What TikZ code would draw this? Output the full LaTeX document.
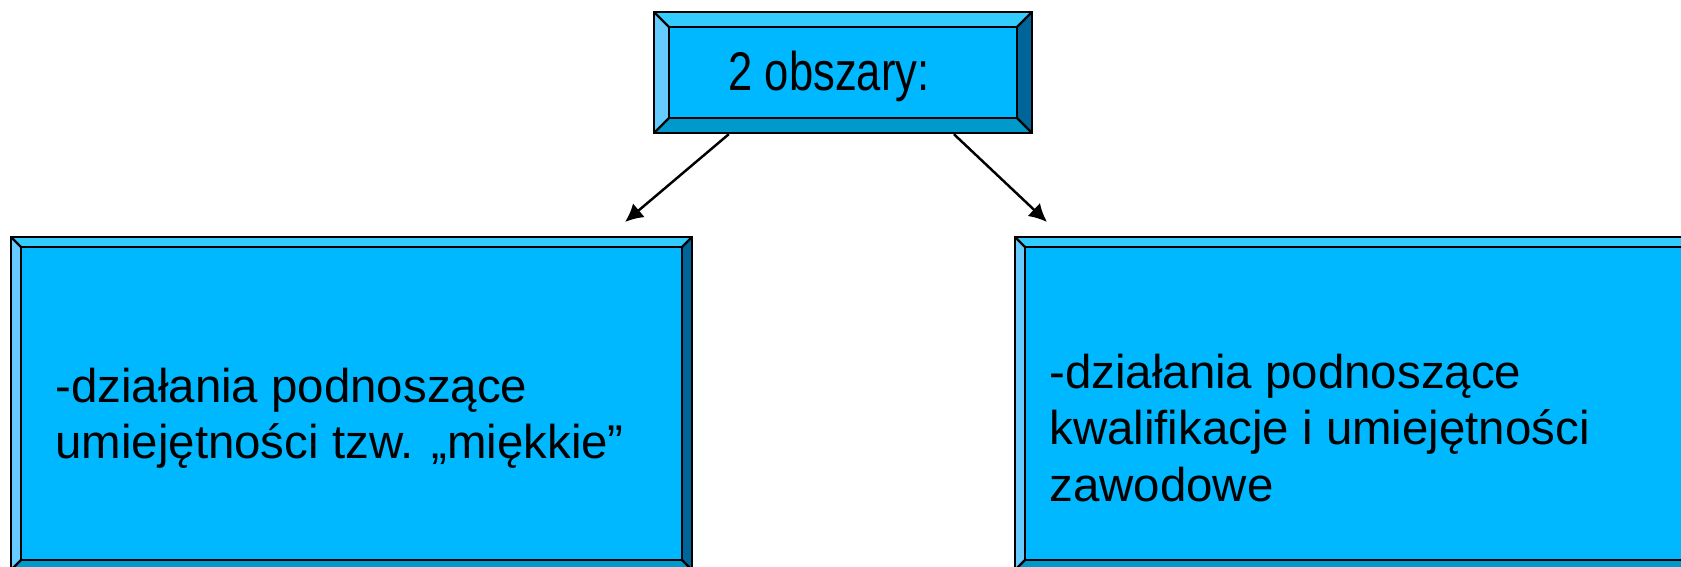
\documentclass[tikz,border=0pt]{standalone}
\usepackage{fontspec}
\setmainfont{Liberation Sans}
\usetikzlibrary{arrows.meta,calc}

\definecolor{niebieski}{HTML}{00B8FF}
\definecolor{jasnyGora}{HTML}{33CCFF}
\definecolor{jasnyLewo}{HTML}{66CCFF}
\definecolor{ciemnyPrawo}{HTML}{006699}
\definecolor{ciemnyDol}{HTML}{0099CC}

\tikzset{
  krawedz/.style={draw=black, line width=1.3pt},
  opis/.style={anchor=base west, align=left, inner sep=0pt, font=\fontsize{27}{31.9}\selectfont},
  strzalka/.style={line width=1.4pt, -{Latex[length=0.36cm,width=0.36cm]}}
}

% ramka z fazka: nazwa, lewy gorny rog, prawy dolny rog, szerokosc fazki
\newcommand{\ramka}[6]{
  \fill[jasnyGora] (#2,#3) -- (#4,#3) -- (#4-#6,#3+#6) -- (#2+#6,#3+#6) -- cycle;
  \fill[jasnyLewo] (#2,#3) -- (#2+#6,#3+#6) -- (#2+#6,#5-#6) -- (#2,#5) -- cycle;
  \fill[ciemnyPrawo] (#4,#3) -- (#4,#5) -- (#4-#6,#5-#6) -- (#4-#6,#3+#6) -- cycle;
  \fill[ciemnyDol] (#2,#5) -- (#2+#6,#5-#6) -- (#4-#6,#5-#6) -- (#4,#5) -- cycle;
  \draw[krawedz, fill=niebieski] (#2+#6,#3+#6) rectangle (#4-#6,#5-#6);
  \draw[krawedz] (#2,#3) -- (#2+#6,#3+#6) (#4,#3) -- (#4-#6,#3+#6)
    (#2,#5) -- (#2+#6,#5-#6) (#4,#5) -- (#4-#6,#5-#6);
  \node[krawedz, inner sep=0pt, minimum width={(#4-#2)*0.02cm},
    minimum height={(#5-#3)*0.02cm}] (#1) at ({(#2+#4)/2},{(#3+#5)/2}) {};
}

\begin{document}
\begin{tikzpicture}[x=0.02cm, y=-0.02cm]
\useasboundingbox (0,0) rectangle (1681,567);
\clip (0,0) rectangle (1681,567);

\ramka{gora}{654}{12}{1032}{133}{15}
\node[anchor=base, inner sep=0pt, font=\fontsize{31}{31}\selectfont] (obszary) at (829,91) {\scalebox{0.8}[1]{2 obszary:}};

\ramka{lewy}{11}{237}{692}{570}{10}
\node[opis] (tekstLewy) at (55,459) {-działania podnoszące\\umiejętności tzw. „miękkie”};

\ramka{prawy}{1015}{237}{1700}{570}{10}
\node[opis] (tekstPrawy) at (1049,501) {-działania podnoszące\\kwalifikacje i umiejętności\\zawodowe};

\coordinate (celLewy) at (625,222);
\coordinate (celPrawy) at (1047,222);
\draw[strzalka] ($(gora.south west)+(76,0)$) -- (celLewy);
\draw[strzalka] ($(gora.south west)+(301,0)$) -- (celPrawy);
\end{tikzpicture}
\end{document}
